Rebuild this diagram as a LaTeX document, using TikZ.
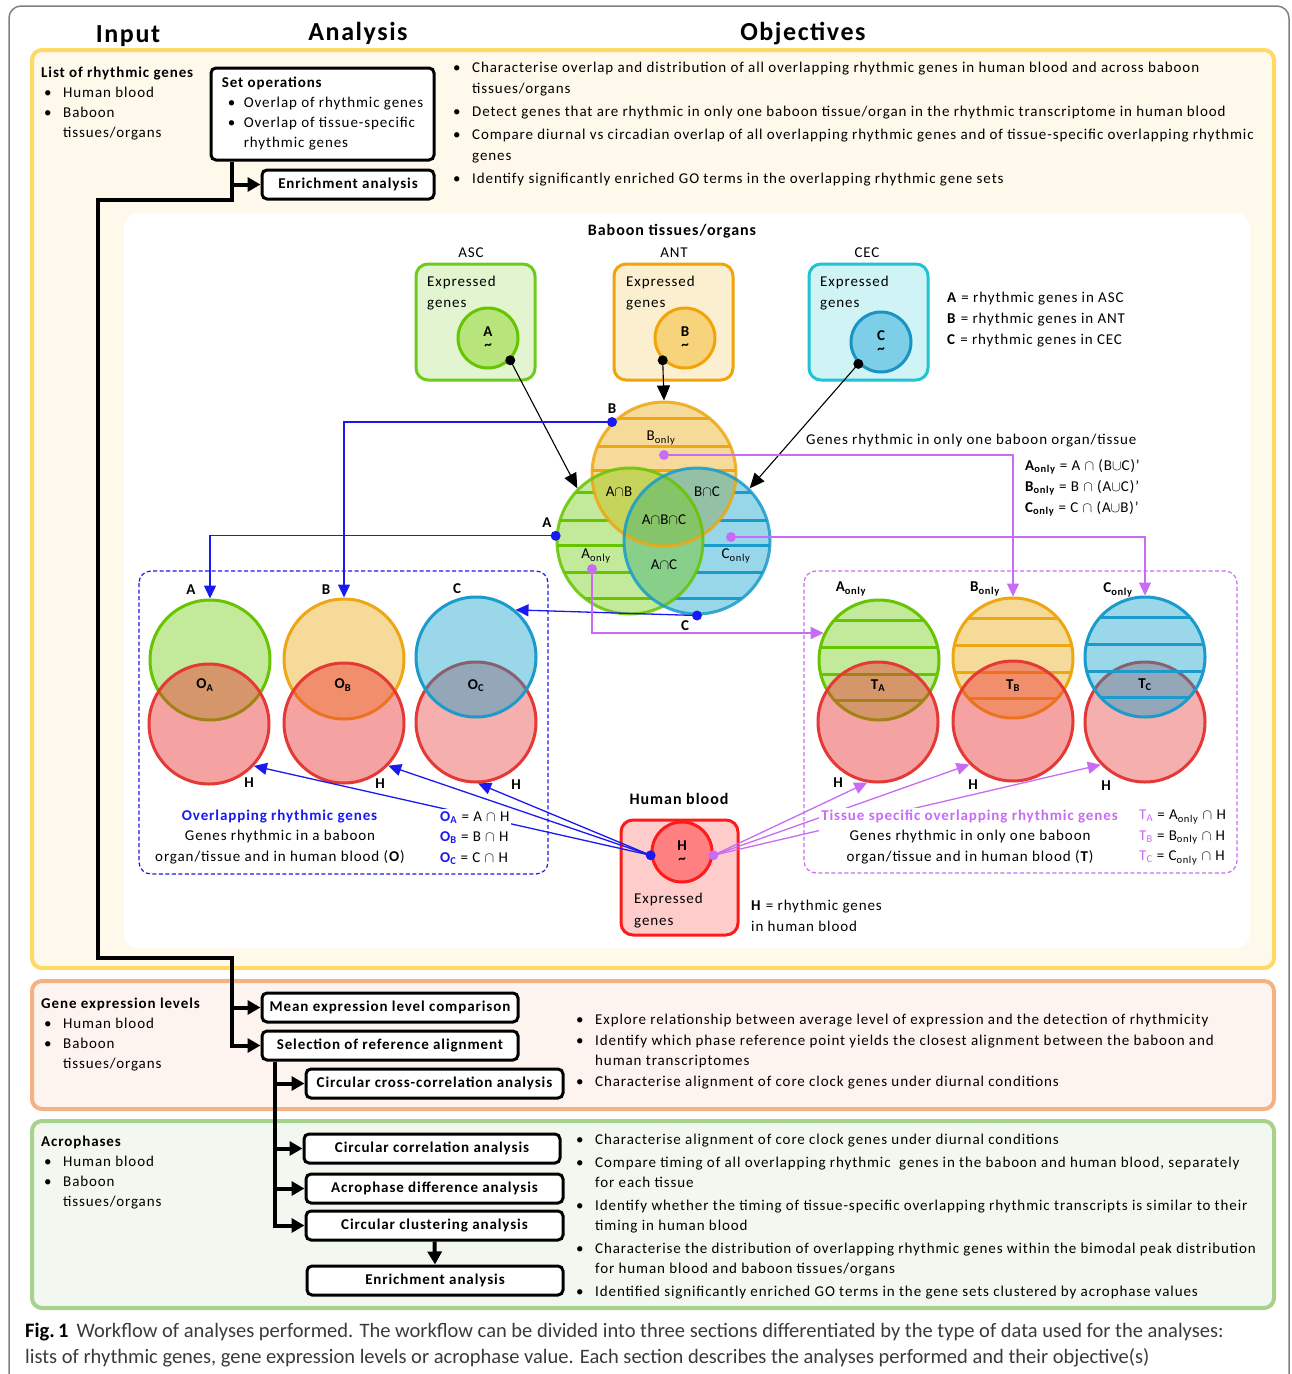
\documentclass[tikz,border=0pt]{standalone}
\usepackage{fontspec}
\setmainfont{Carlito}[LetterSpace=6]
\newfontfamily\captionfont{Carlito}
\usetikzlibrary{arrows.meta,positioning,calc}
\definecolor{YelS}{HTML}{FFD966}
\definecolor{YelF}{HTML}{FFF9EC}
\definecolor{OraS}{HTML}{F4B183}
\definecolor{OraF}{HTML}{FEF4EF}
\definecolor{GrnS}{HTML}{A9D18E}
\definecolor{GrnF}{HTML}{F2F7EF}
\definecolor{SetA}{HTML}{C3E99A}
\definecolor{SetAS}{HTML}{66C400}
\definecolor{SetB}{HTML}{F6DA9A}
\definecolor{SetBS}{HTML}{EDA712}
\definecolor{SetC}{HTML}{98D7EA}
\definecolor{SetCS}{HTML}{1A9BCB}
\definecolor{SetCT}{HTML}{009BCA}
\definecolor{SetAB}{HTML}{C6D45C}
\definecolor{SetBC}{HTML}{94C0A6}
\definecolor{SetAC}{HTML}{88D08A}
\definecolor{SetABC}{HTML}{86C46A}
\definecolor{HRed}{HTML}{EB3232}
\definecolor{HRedS}{HTML}{E53935}
\definecolor{HPink}{HTML}{F5AFAF}
\definecolor{LinkBlue}{HTML}{1A1AF0}
\definecolor{LinkPurple}{HTML}{C86CF5}
\definecolor{AscF}{HTML}{E2F5D0}
\definecolor{AscS}{HTML}{6CCB1C}
\definecolor{AscC}{HTML}{B8E47C}
\definecolor{AntF}{HTML}{FCEFCF}
\definecolor{AntS}{HTML}{F0A30A}
\definecolor{AntC}{HTML}{F7D47C}
\definecolor{CecF}{HTML}{D0F4F5}
\definecolor{CecS}{HTML}{1FC3D1}
\definecolor{CecC}{HTML}{7CCFE6}
\definecolor{CecCS}{HTML}{1A92C4}
\definecolor{BloodF}{HTML}{FFCCCC}
\definecolor{BloodS}{HTML}{FF1A1A}
\definecolor{BloodC}{HTML}{FF8080}
\definecolor{CapGray}{HTML}{3A3A3A}
\newcommand\bul{\makebox[19pt][l]{\textbullet}}
\newcommand\bulind{\hspace*{19pt}}
\newcommand\onlyset[1]{#1\textsubscript{only}}

\begin{document}
\begin{tikzpicture}[x=1pt,y=-1pt,>=Latex,
  txt/.style={font=\fontsize{15}{21}\selectfont, inner sep=0pt},
  lbl/.style={font=\bfseries\fontsize{15}{17}\selectfont, inner sep=0pt},
  head/.style={font=\bfseries\fontsize{26}{30}\selectfont, inner sep=0pt},
  section/.style={line width=4pt, rounded corners=10pt},
  flowbox/.style={draw, line width=3pt, rounded corners=5pt, fill=white, minimum height=29pt, inner sep=0pt, font=\bfseries\fontsize{15}{17}\selectfont},
  flow/.style={line width=4pt},
  flowarrow/.style={flow, -{Triangle[length=13pt,width=14pt]}},
  tissuebox/.style={draw, line width=3pt, rounded corners=12pt, minimum width=119pt, minimum height=116pt},
  smallset/.style={circle, draw, line width=3pt, minimum size=60pt, inner sep=0pt, font=\bfseries\fontsize{15}{13}\selectfont, align=center},
  setcirc/.style={circle, draw, line width=3pt, minimum size=120pt, inner sep=0pt},
  vennset/.style={circle, draw, line width=3pt, inner sep=0pt, draw opacity=0.85},
  bluelink/.style={draw=LinkBlue, line width=1.3pt, -{Triangle[length=13pt,width=12pt]}},
  purplelink/.style={draw=LinkPurple, line width=1.3pt, -{Triangle[length=13pt,width=12pt]}},
  blackarrow/.style={line width=1.1pt, -{Triangle[length=15pt,width=13pt]}},
  stripes/.style={path picture={\foreach \dy in {-40,-13,14,40}
      \draw[#1, line width=3pt] ($(path picture bounding box.center)+(-70,\dy)$) -- ++(140,0);}},
]
\useasboundingbox (0,0) rectangle (1292,1374);

% frame and sections
\draw[black!50, line width=1.5pt, rounded corners=12pt] (9,1374) -- (9,6) -- (1289,6) -- (1289,1374);
\draw[section, draw=YelS, fill=YelF] (32,50) rectangle (1274,968);
\draw[section, draw=OraS, fill=OraF] (32,981) rectangle (1274,1109);
\draw[section, draw=GrnS, fill=GrnF] (32,1121) rectangle (1274,1308);
\fill[white, rounded corners=15pt] (124,213) rectangle (1250,948);

\node[head] (hinput) at (128,36) {Input};
\node[head] (hanalysis) at (358,33) {Analysis};
\node[head] (hobj) at (803,34) {Objectives};

% input lists
\node[txt, anchor=north west, align=left, font=\fontsize{15}{20}\selectfont] (in1) at (41,67)
  {\textbf{List of rhythmic genes}\\\hspace*{3pt}\bul Human blood\\\hspace*{3pt}\bul Baboon\\\hspace*{22pt}tissues/organs};
\node[txt, anchor=north west, align=left, font=\fontsize{15}{20}\selectfont] (in2) at (41,998)
  {\textbf{Gene expression levels}\\\hspace*{3pt}\bul Human blood\\\hspace*{3pt}\bul Baboon\\\hspace*{22pt}tissues/organs};
\node[txt, anchor=north west, align=left, font=\fontsize{15}{20}\selectfont] (in3) at (41,1136)
  {\textbf{Acrophases}\\\hspace*{3pt}\bul Human blood\\\hspace*{3pt}\bul Baboon\\\hspace*{22pt}tissues/organs};

% analysis boxes
\node[flowbox, font=\fontsize{15}{20}\selectfont, align=left, minimum width=223pt, minimum height=92pt] (setops) at (322.5,114)
  {\textbf{Set operations}\\\hspace*{6pt}\makebox[16pt][l]{\textbullet}Overlap of rhythmic genes\\\hspace*{6pt}\makebox[16pt][l]{\textbullet}Overlap of tissue-specific\\\hspace*{22pt}rhythmic genes};
\node[flowbox, minimum width=172pt] (enrich1) at (348,184.5) {Enrichment analysis};
\node[flowbox, minimum width=256pt] (meanexp) at (390,1007.5) {Mean expression level comparison};
\node[flowbox, minimum width=256pt] (refalign) at (390,1045.5) {Selection of reference alignment};
\node[flowbox, minimum width=257pt] (crosscorr) at (434.5,1083.5) {Circular cross-correlation analysis};
\node[flowbox, minimum width=256pt] (circcorr) at (432,1148.5) {Circular correlation analysis};
\node[flowbox, minimum width=257pt] (acrodiff) at (434.5,1188.5) {Acrophase difference analysis};
\node[flowbox, minimum width=257pt] (circclust) at (434.5,1225.5) {Circular clustering analysis};
\node[flowbox, minimum width=256pt] (enrich2) at (435,1280.5) {Enrichment analysis};

\coordinate (trunk) at (232,0);
\coordinate (bendA) at (98,200);
\coordinate (bendB) at (98,958);
\coordinate (bendC) at (232,958);
\coordinate (trunkb) at (275,0);
\draw[flowarrow] (setops.south -| trunk) |- (bendA) -- (bendB) -- (bendC) |- (refalign.west);
\draw[flowarrow] (enrich1.west -| trunk) -- (enrich1.west);
\draw[flowarrow] (meanexp.west -| trunk) -- (meanexp.west);
\draw[flowarrow] (refalign.south -| trunkb) |- (circclust.west);
\foreach \n in {crosscorr,circcorr,acrodiff}
  \draw[flowarrow] (\n.west -| trunkb) -- (\n.west);
\draw[flowarrow] (circclust.south) -- (enrich2.north);

% objectives
\node[txt, anchor=north west, align=left] (obj1) at (453,62)
  {\bul Characterise overlap and distribution of all overlapping rhythmic genes in human blood and across baboon\\
   \bulind tissues/organs\\[2pt]
   \bul Detect genes that are rhythmic in only one baboon tissue/organ in the rhythmic transcriptome in human blood\\[2pt]
   \bul Compare diurnal vs circadian overlap of all overlapping rhythmic genes and of tissue-specific overlapping rhythmic\\
   \bulind genes\\[2pt]
   \bul Identify significantly enriched GO terms in the overlapping rhythmic gene sets};
\node[txt, anchor=north west, align=left, font=\fontsize{15}{20.5}\selectfont] (obj2) at (576,1014)
  {\bul Explore relationship between average level of expression and the detection of rhythmicity\\
   \bul Identify which phase reference point yields the closest alignment between the baboon and\\
   \bulind human transcriptomes\\
   \bul Characterise alignment of core clock genes under diurnal conditions};
\node[txt, anchor=north west, align=left, font=\fontsize{15}{20.5}\selectfont] (obj3) at (576,1134)
  {\bul Characterise alignment of core clock genes under diurnal conditions\\[2pt]
   \bul Compare timing of all overlapping rhythmic\ \ genes in the baboon and human blood, separately\\
   \bulind for each tissue\\[2pt]
   \bul Identify whether the timing of tissue-specific overlapping rhythmic transcripts is similar to their\\
   \bulind timing in human blood\\[2pt]
   \bul Characterise the distribution of overlapping rhythmic genes within the bimodal peak distribution\\
   \bulind for human blood and baboon tissues/organs\\[2pt]
   \bul Identified significantly enriched GO terms in the gene sets clustered by acrophase values};

% baboon tissues
\node[lbl, font=\bfseries\fontsize{16}{19}\selectfont] (babtitle) at (672,231) {Baboon tissues/organs};
\node[txt] (asclbl) at (471,253) {ASC};
\node[txt] (antlbl) at (674,253) {ANT};
\node[txt] (ceclbl) at (867,253) {CEC};
\node[tissuebox, draw=AscS, fill=AscF] (ascbox) at (475.5,322) {};
\node[tissuebox, draw=AntS, fill=AntF] (antbox) at (673.5,322) {};
\node[tissuebox, draw=CecS, fill=CecF] (cecbox) at (868.5,322) {};
\foreach \x/\n in {427/asc,626/ant,820/cec}
  \node[txt, anchor=north west, align=left] (\n txt) at (\x,276) {Expressed\\genes};
\node[smallset, draw=SetAS, fill=AscC] (cA) at (488,338) {A\\\textasciitilde};
\node[smallset, draw=AntS, fill=AntC] (cB) at (685,338) {B\\\textasciitilde};
\node[smallset, draw=CecCS, fill=CecC] (cC) at (881,342) {C\\\textasciitilde};
\node[txt, anchor=north west, align=left] (abclegend) at (947,292)
  {\textbf{A} = rhythmic genes in ASC\\\textbf{B} = rhythmic genes in ANT\\\textbf{C} = rhythmic genes in CEC};

% venn of the three tissues
\coordinate (pA) at (630,541);
\coordinate (pB) at (664,474);
\coordinate (pC) at (697,541);
\fill[SetA] (pA) circle (73);
\fill[SetB] (pB) circle (72);
\fill[SetC] (pC) circle (73);
\begin{scope}
  \clip (pB) circle (72);
  \foreach \yy in {418,446,470} \draw[SetBS, line width=3pt] (580,\yy) -- (750,\yy);
\end{scope}
\begin{scope}
  \clip (pA) circle (73);
  \foreach \yy in {492,520,545,572,598} \draw[SetAS, line width=3pt] (550,\yy) -- (710,\yy);
\end{scope}
\begin{scope}
  \clip (pC) circle (73);
  \foreach \yy in {492,520,545,572,598} \draw[SetCS, line width=3pt] (615,\yy) -- (780,\yy);
\end{scope}
\begin{scope}
  \clip (pA) circle (73);
  \fill[SetAB] (pB) circle (72);
  \fill[SetAC] (pC) circle (73);
\end{scope}
\begin{scope}
  \clip (pB) circle (72);
  \fill[SetBC] (pC) circle (73);
\end{scope}
\begin{scope}
  \clip (pA) circle (73);
  \clip (pB) circle (72);
  \fill[SetABC] (pC) circle (73);
\end{scope}
\node[vennset, draw=SetBS, minimum size=144pt] (vB) at (pB) {};
\node[vennset, draw=SetAS, minimum size=146pt] (vA) at (pA) {};
\node[vennset, draw=SetCS, minimum size=146pt] (vC) at (pC) {};
\node[txt] at (661,438) {\onlyset{B}};
\node[txt] at (619,492) {A$\cap$B};
\node[txt] at (707,492) {B$\cap$C};
\node[txt] at (664,520) {A$\cap$B$\cap$C};
\node[txt] at (596,556) {\onlyset{A}};
\node[txt] at (664,565) {A$\cap$C};
\node[txt] at (736,556) {\onlyset{C}};

\draw[blackarrow] (cA.-45) -- (vA.135);
\draw[blackarrow] (cB.225) -- (vB.north);
\draw[blackarrow] (cC.224) -- (vC.45);
\fill (cA.-45) circle (5) (cB.225) circle (5) (cC.224) circle (5);

\node[txt, anchor=west] (onlytitle) at (806,441) {Genes rhythmic in only one baboon organ/tissue};
\node[txt, anchor=north west, align=left] (onlylegend) at (1025,459)
  {\textbf{\onlyset{A}} = A $\cap$ (B$\cup$C)’\\\textbf{\onlyset{B}} = B $\cap$ (A$\cup$C)’\\\textbf{\onlyset{C}} = C $\cap$ (A$\cup$B)’};

% overlapping rhythmic genes
\draw[LinkBlue, dash pattern=on 4pt off 2.5pt, line width=1.2pt, rounded corners=12pt] (139,571) rectangle (548,874);
\node[setcirc, fill=SetA, draw=SetAS] (oA) at (210,660) {};
\node[setcirc, fill=HRed, fill opacity=0.45, draw=HRedS] (hOA) at (209,724) {};
\node[setcirc, fill=SetB, draw=SetBS] (oB) at (344,659) {};
\node[setcirc, fill=HRed, fill opacity=0.45, draw=HRedS] (hOB) at (344,723) {};
\node[setcirc, fill=HPink, draw=HRedS] (hOC) at (476,722) {};
\node[setcirc, fill=SetCT, fill opacity=0.4, draw=SetCS] (oC) at (476,657) {};
\node[lbl] at (191,590) {A};
\node[lbl] at (326,590) {B};
\node[lbl] at (457,589) {C};
\node[lbl] at (249,783) {H};
\node[lbl] at (380,784) {H};
\node[lbl] at (516,785) {H};
\node[lbl] at (205,685) {O\textsubscript{A}};
\node[lbl] at (343,685) {O\textsubscript{B}};
\node[lbl] at (476,686) {O\textsubscript{C}};

% tissue specific overlapping rhythmic genes
\draw[LinkPurple, dash pattern=on 4pt off 2.5pt, line width=1.2pt, rounded corners=12pt] (804,571) rectangle (1237,873);
\node[setcirc, fill=SetA, draw=SetAS, stripes=SetAS] (tA) at (879,660) {};
\node[setcirc, fill=HRed, fill opacity=0.45, draw=HRedS] (hTA) at (878,722) {};
\node[setcirc, fill=SetB, draw=SetBS, stripes=SetBS] (tB) at (1013,658) {};
\node[setcirc, fill=HRed, fill opacity=0.45, draw=HRedS] (hTB) at (1013,721) {};
\node[setcirc, fill=HPink, draw=HRedS] (hTC) at (1145,722) {};
\node[setcirc, fill=SetCT, fill opacity=0.4, draw=SetCS, stripes=SetCS] (tC) at (1145,657) {};
\node[lbl] at (851,589) {\onlyset{A}};
\node[lbl] at (985,589) {\onlyset{B}};
\node[lbl] at (1118,590) {\onlyset{C}};
\node[lbl] at (838,783) {H};
\node[lbl] at (973,785) {H};
\node[lbl] at (1106,786) {H};
\node[lbl] at (878,686) {T\textsubscript{A}};
\node[lbl] at (1013,686) {T\textsubscript{B}};
\node[lbl] at (1145,685) {T\textsubscript{C}};

% links from the venn
\coordinate (bonly) at (664,455);
\coordinate (conly) at (731,537);
\coordinate (aonly) at (592,569);
\draw[bluelink] (vB.135) -| (oB.north);
\draw[bluelink] (vA.176) -| (oA.north);
\draw[bluelink] (vC.south) -- (oC.50);
\fill[LinkBlue] (vB.135) circle (5) (vA.176) circle (5) (vC.south) circle (5);
\node[lbl] at (612,409) {B};
\node[lbl] at (547,523) {A};
\node[lbl] at (685,626) {C};
\draw[purplelink] (bonly) -| (tB.north);
\draw[purplelink] (conly) -| (tC.north);
\draw[purplelink] (aonly) |- (tA.154);
\fill[LinkPurple] (bonly) circle (5) (conly) circle (5) (aonly) circle (5);

% human blood
\node[lbl, font=\bfseries\fontsize{16}{19}\selectfont] (bloodtitle) at (679,799) {Human blood};
\node[tissuebox, draw=BloodS, fill=BloodF, minimum width=117pt, minimum height=115pt] (bloodbox) at (679.5,877.5) {};
\node[smallset, draw=BloodS, fill=BloodC] (hcirc) at (682,852) {H\\\textasciitilde};
\node[txt, anchor=north west, align=left, font=\fontsize{15}{22}\selectfont] (bloodtxt) at (634,893) {Expressed\\genes};
\node[txt, anchor=north west, align=left] (hlegend) at (751,900) {\textbf{H} = rhythmic genes\\in human blood};
\draw[bluelink] (hcirc.186) -- (hOA.-43);
\draw[bluelink] (hcirc.186) -- (hOB.-44);
\draw[bluelink] (hcirc.186) -- (hOC.-88);
\draw[purplelink] (hcirc.-6) -- (hTA.-100);
\draw[purplelink] (hcirc.-6) -- (hTB.-135);
\draw[purplelink] (hcirc.-6) -- (hTC.-136);
\fill[LinkBlue] (hcirc.186) circle (5);
\fill[LinkPurple] (hcirc.-6) circle (5);

\node[txt, align=center, fill=white, inner sep=2pt, font=\fontsize{15}{20.5}\selectfont] (otxt) at (280,837)
  {\textcolor{LinkBlue}{\textbf{Overlapping rhythmic genes}}\\Genes rhythmic in a baboon\\organ/tissue and in human blood (\textbf{O})};
\node[txt, anchor=north west, align=left, fill=white, inner sep=2pt, font=\fontsize{15}{20.5}\selectfont] (olegend) at (438,809)
  {\textcolor{LinkBlue}{\textbf{O\textsubscript{A}}} = A $\cap$ H\\\textcolor{LinkBlue}{\textbf{O\textsubscript{B}}} = B $\cap$ H\\\textcolor{LinkBlue}{\textbf{O\textsubscript{C}}} = C $\cap$ H};
\node[txt, align=center, fill=white, inner sep=2pt, font=\fontsize{15}{20.5}\selectfont] (ttxt) at (970,837)
  {\textcolor{LinkPurple}{\textbf{Tissue specific overlapping rhythmic genes}}\\Genes rhythmic in only one baboon\\organ/tissue and in human blood (\textbf{T})};
\node[txt, anchor=north west, align=left, font=\fontsize{15}{20.5}\selectfont] (tlegend) at (1139,810)
  {\textcolor{LinkPurple}{T\textsubscript{A}} = \onlyset{A} $\cap$ H\\\textcolor{LinkPurple}{T\textsubscript{B}} = \onlyset{B} $\cap$ H\\\textcolor{LinkPurple}{T\textsubscript{C}} = \onlyset{C} $\cap$ H};

% caption
\node[anchor=west, inner sep=0pt, text=CapGray, font=\fontsize{20.5}{24}\captionfont] (cap1) at (25,1332)
  {{\color{black}\bfseries Fig.\,1}\hspace{8pt}Workflow of analyses performed. The workflow can be divided into three sections differentiated by the type of data used for the analyses:};
\node[anchor=west, inner sep=0pt, text=CapGray, font=\fontsize{20.5}{24}\captionfont] (cap2) at (25,1358)
  {lists of rhythmic genes, gene expression levels or acrophase value. Each section describes the analyses performed and their objective(s)};
\end{tikzpicture}
\end{document}
